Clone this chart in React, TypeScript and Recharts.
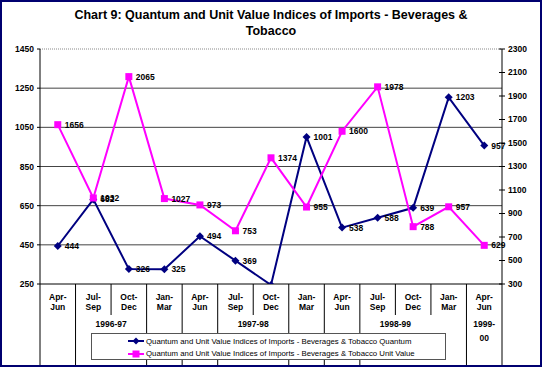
import React from 'react';
import { ComposedChart, Line, XAxis, YAxis, CartesianGrid, ReferenceLine, LabelList, Legend } from 'recharts';

const quarters = [
  'Apr-Jun', 'Jul-Sep', 'Oct-Dec', 'Jan-Mar',
  'Apr-Jun', 'Jul-Sep', 'Oct-Dec', 'Jan-Mar',
  'Apr-Jun', 'Jul-Sep', 'Oct-Dec', 'Jan-Mar',
  'Apr-Jun',
];

const quantum = [444, 682, 326, 325, 494, 369, 245, 1001, 538, 588, 639, 1203, 957];
const unitValue = [1656, 1032, 2065, 1027, 973, 753, 1374, 955, 1600, 1978, 788, 957, 629];

// year groups on the second axis row, by category index
const yearGroups = [
  { label: ['1996-97'], start: 1, end: 2 },
  { label: ['1997-98'], start: 5, end: 6 },
  { label: ['1998-99'], start: 9, end: 10 },
  { label: ['1999-', '00'], start: 12, end: 12 },
];
// separators that stop under the quarter row
const shortSeparators = [2, 6, 10, 11];

const leftTicks = [250, 450, 650, 850, 1050, 1250, 1450];
const rightTicks = [300, 500, 700, 900, 1100, 1300, 1500, 1700, 1900, 2100, 2300];

const QUANTUM_NAME = 'Quantum and Unit Value Indices of Imports - Beverages & Tobacco Quantum';
const UNIT_NAME = 'Quantum and Unit Value Indices of Imports - Beverages & Tobacco Unit Value';

const data = quarters.map((q, i) => ({ quarter: q, quantum: quantum[i], unitValue: unitValue[i] }));

const W = 542;
const H = 367;
const AXIS_W = 40;
const HALF_BAND = (W - 2 * AXIS_W) / quarters.length / 2;
const FONT = '"Liberation Sans", Arial, sans-serif';

const CategoryTick = (props: any) => {
  const { x, y, payload, index } = props;
  const left = x - HALF_BAND;
  const [a, b] = String(payload.value).split('-');
  const group = yearGroups.find((g) => g.start === index);
  const isLast = index === quarters.length - 1;
  return (
    <g fontFamily={FONT} fontSize={8.5} fontWeight="bold" fill="#000">
      <line x1={left} x2={left} y1={y} y2={shortSeparators.includes(index) ? y + 31 : H} stroke="#000" />
      {isLast && <line x1={x + HALF_BAND} x2={x + HALF_BAND} y1={y} y2={H} stroke="#000" />}
      <text x={x} y={y + 16} textAnchor="middle">{a + '-'}</text>
      <text x={x} y={y + 26} textAnchor="middle">{b}</text>
      {group &&
        group.label.map((t, i) => (
          <text key={t} x={left + (group.end - group.start + 1) * HALF_BAND} y={y + 43 + i * 14} textAnchor="middle">
            {t}
          </text>
        ))}
    </g>
  );
};

const RightTick = (props: any) => {
  const { x, y, payload } = props;
  const axisX = x - 6;
  return (
    <g>
      <line x1={axisX - 3} x2={axisX + 3} y1={y} y2={y} stroke="#000" />
      <text x={x} y={y} dy="0.35em" fontFamily={FONT} fontSize={8.5} fontWeight="bold" fill="#000">
        {payload.value}
      </text>
    </g>
  );
};

const Diamond = (props: any) => {
  const { cx, cy, index } = props;
  if (cx == null || cy == null) return <g key={index} />;
  return <path key={index} d={`M${cx},${cy - 4}L${cx + 4},${cy}L${cx},${cy + 4}L${cx - 4},${cy}Z`} fill="#000080" />;
};

const Square = (props: any) => {
  const { cx, cy, index } = props;
  if (cx == null || cy == null) return <g key={index} />;
  return <rect key={index} x={cx - 3.5} y={cy - 3.5} width={7} height={7} fill="#FF00FF" />;
};

const ValueLabel = (props: any) => {
  const { x, y, value } = props;
  return (
    <text x={x + 7} y={y + 3} fontFamily={FONT} fontSize={8.5} fontWeight="bold" fill="#000">
      {value}
    </text>
  );
};

// the point below the axis minimum carries no label
const QuantumLabel = (props: any) => (props.value < 250 ? null : <ValueLabel {...props} />);

const LegendBox = ({ payload }: any) => (
  <div style={{ width: 353, height: 25, border: '1px solid #555', background: '#fff', position: 'relative', fontFamily: FONT, fontSize: 7.8, color: '#000' }}>
    {(payload || []).map((p: any, i: number) => (
      <div key={p.value} style={{ position: 'absolute', left: 35, top: 1 + i * 12.5, height: 12, display: 'flex', alignItems: 'center' }}>
        <svg width={18} height={10}>
          <line x1={1} x2={17} y1={5} y2={5} stroke={p.color} strokeWidth={2} />
          {i === 0 ? <path d="M9,1.5L12.5,5L9,8.5L5.5,5Z" fill={p.color} /> : <rect x={5.5} y={1.5} width={7} height={7} fill={p.color} />}
        </svg>
        <span style={{ marginLeft: 1, whiteSpace: 'nowrap' }}>{p.value}</span>
      </div>
    ))}
  </div>
);

export default function App() {
  return (
    <div style={{ position: 'absolute', left: 0, top: 0, width: W, height: H, background: '#fff' }}>
      <div
        style={{
          position: 'absolute', left: 0, top: 7, width: W, textAlign: 'center',
          fontFamily: FONT, fontWeight: 'bold', fontSize: 12.5, lineHeight: '16px', color: '#000',
        }}
      >
        Chart 9: Quantum and Unit Value Indices of Imports - Beverages &amp;
        <br />
        Tobacco
      </div>
      <ComposedChart width={W} height={H} data={data} margin={{ top: 49, right: 0, bottom: 0, left: 0 }}>
        <CartesianGrid yAxisId="left" vertical={false} horizontalValues={[450, 650, 850, 1050, 1250]} stroke="#444" />
        <XAxis
          dataKey="quarter"
          height={H - 284}
          interval={0}
          padding={{ left: HALF_BAND, right: HALF_BAND }}
          tickLine={false}
          tickSize={0}
          tickMargin={0}
          tick={<CategoryTick />}
          axisLine={{ stroke: '#000' }}
        />
        <YAxis
          yAxisId="left"
          width={AXIS_W}
          domain={[250, 1450]}
          ticks={leftTicks}
          allowDataOverflow
          tickSize={3}
          tickMargin={3}
          axisLine={{ stroke: '#000' }}
          tickLine={{ stroke: '#000' }}
          tick={{ fontFamily: FONT, fontSize: 8.5, fontWeight: 'bold', fill: '#000' }}
        />
        <YAxis
          yAxisId="right"
          orientation="right"
          width={AXIS_W}
          domain={[300, 2300]}
          ticks={rightTicks}
          tickSize={3}
          tickMargin={3}
          tickLine={false}
          axisLine={{ stroke: '#000' }}
          tick={<RightTick />}
        />
        <ReferenceLine yAxisId="left" y={1450} stroke="#888" strokeDasharray="1 1" />
        <Legend
          layout="vertical"
          align="center"
          verticalAlign="middle"
          content={<LegendBox />}
          wrapperStyle={{ position: 'absolute', left: 91, top: 333, width: 355, height: 27 }}
        />
        <Line
          yAxisId="left"
          dataKey="quantum"
          name={QUANTUM_NAME}
          stroke="#000080"
          strokeWidth={2}
          dot={<Diamond />}
          activeDot={false}
          isAnimationActive={false}
        >
          <LabelList dataKey="quantum" content={<QuantumLabel />} />
        </Line>
        <Line
          yAxisId="right"
          dataKey="unitValue"
          name={UNIT_NAME}
          stroke="#FF00FF"
          strokeWidth={2}
          dot={<Square />}
          activeDot={false}
          isAnimationActive={false}
        >
          <LabelList dataKey="unitValue" content={<ValueLabel />} />
        </Line>
      </ComposedChart>
      <div style={{ position: 'absolute', left: 0, top: 0, width: W, height: H, boxSizing: 'border-box', border: '2px solid #000070', pointerEvents: 'none' }} />
    </div>
  );
}
